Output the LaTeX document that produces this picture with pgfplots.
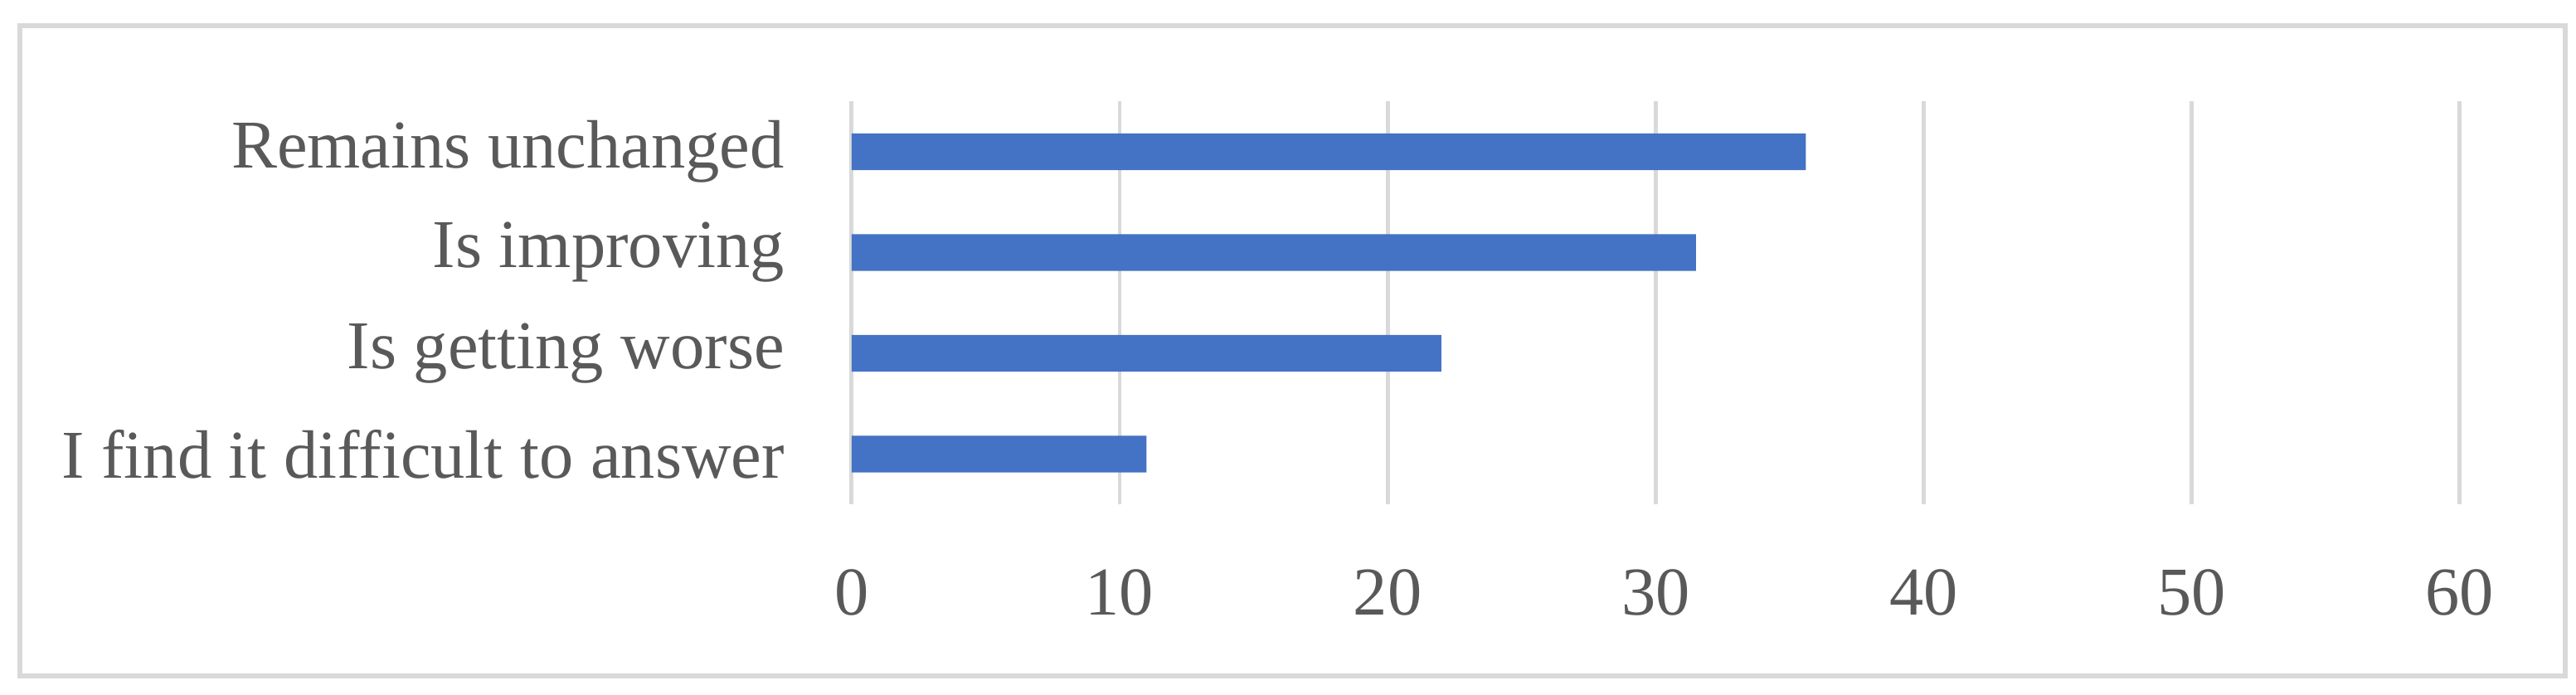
\documentclass[border=0pt]{standalone}
\usepackage{fontspec}
\setmainfont{Liberation Serif}
\usepackage{pgfplots}
\pgfplotsset{compat=1.18}
\definecolor{barblue}{HTML}{4472C4}
\definecolor{gridgray}{HTML}{D9D9D9}
\definecolor{txtgray}{HTML}{595959}
\begin{document}
\begin{tikzpicture}
\path[use as bounding box] (-136.9pt,-30.5pt) rectangle (277.2pt,81.1pt);
\draw[gridgray, line width=0.8pt] (-133.7pt,-27.6pt) rectangle (275.4pt,77.0pt);
\begin{axis}[
  at={(0pt,0pt)}, anchor=south west,
  scale only axis,
  width=258.5pt, height=64.8pt,
  xbar, bar width=5.9pt,
  xmin=0, xmax=60, ymin=-0.5, ymax=3.5,
  xtick={0,10,20,30,40,50,60},
  ytick={0,1,2,3},
  yticklabels={I find it difficult to answer, Is getting worse, Is improving, Remains unchanged},
  axis line style={draw=none},
  major tick length=0pt,
  xmajorgrids, major grid style={gridgray, line width=0.65pt},
  tick label style={font=\fontsize{11}{13}\selectfont, text=txtgray, inner sep=0pt},
  /pgf/number format/assume math mode=true,
  xticklabel style={anchor=north, yshift=-10.3pt},
  yticklabel style={anchor=east, xshift=-10.6pt},
  clip=false,
]
\addplot[fill=barblue, draw=none] coordinates {(11.0,0) (22.0,1) (31.5,2) (35.6,3)};
\end{axis}
\end{tikzpicture}
\end{document}
